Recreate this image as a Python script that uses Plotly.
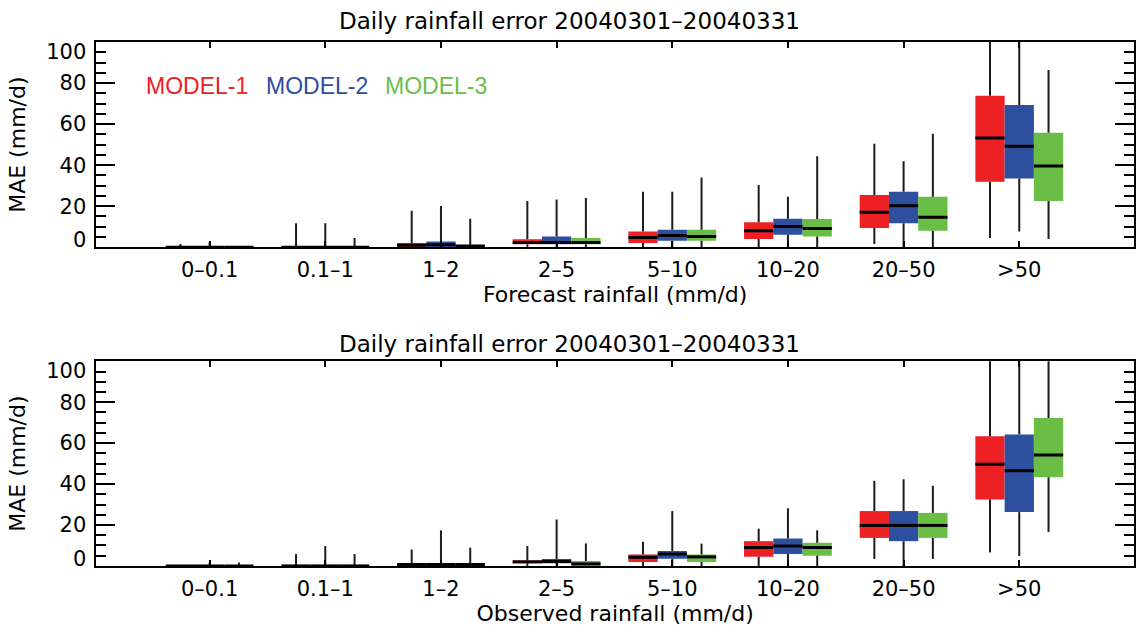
import plotly.graph_objects as go

# Rainfall bins (x categories)
categories = ["0–0.1", "0.1–1", "1–2", "2–5", "5–10", "10–20", "20–50", ">50"]
models = ["MODEL-1", "MODEL-2", "MODEL-3"]
colors = ["#ED2024", "#2E4E9E", "#6BBE45"]

# Forecast-binned MAE statistics, one list per model (MODEL-1, MODEL-2, MODEL-3)
fc_low = [[0, 0, 0, 0, 0, 0, 1.5, 4.5],
          [0, 0, 0, 0, 0, 0, 0, 7.7],
          [0, 0, 0, 0, 0, 0, 0, 4.0]]
fc_q1 = [[0, 0, 0, 1.4, 2.0, 4.0, 9.3, 31.9],
         [0, 0, 0, 1.4, 3.1, 6.0, 11.7, 33.5],
         [0, 0, 0, 1.4, 3.1, 5.2, 8.0, 22.5]]
fc_med = [[0, 0, 0.9, 2.3, 4.7, 8.0, 17.0, 53.2],
          [0, 0, 1.2, 2.3, 5.7, 10.1, 20.2, 49.2],
          [0, 0, 0.6, 2.3, 5.2, 9.1, 14.6, 39.6]]
fc_q3 = [[0, 0.3, 2.0, 3.8, 7.7, 12.2, 25.4, 73.8],
         [0, 0.3, 2.8, 5.2, 8.5, 13.8, 27.0, 69.3],
         [0, 0.2, 0.9, 4.5, 8.5, 13.7, 24.6, 55.8]]
fc_high = [[1.5, 11.7, 17.7, 22.5, 27.0, 30.3, 50.4, 115],
           [2.5, 11.7, 20.1, 23.3, 27.0, 24.6, 41.9, 115],
           [0.5, 4.5, 13.8, 24.0, 34.0, 44.3, 55.3, 86.4]]

# Observation-binned MAE statistics
ob_low = [[0, 0, 0, 0, 0, 0, 3.4, 6.6],
          [0, 0, 0, 0, 0, 0, 0, 4.8],
          [0, 0, 0, 0, 0, 0, 3.4, 16.6]]
ob_q1 = [[0, 0, 0, 1.3, 1.9, 4.5, 13.7, 32.4],
         [0, 0, 0, 1.3, 3.5, 5.8, 12.1, 26.3],
         [0, 0, 0, 0, 1.9, 5.0, 13.7, 43.3]]
ob_med = [[0, 0, 0.7, 2.0, 4.2, 9.0, 19.8, 49.7],
          [0, 0, 0.7, 2.2, 5.8, 9.7, 19.8, 46.5],
          [0, 0, 0.7, 1.0, 4.4, 9.0, 19.8, 54.2]]
ob_q3 = [[0, 0, 1.0, 2.7, 5.6, 12.1, 26.8, 63.4],
         [0, 0, 1.0, 3.4, 7.3, 13.4, 26.8, 64.2],
         [0, 0, 1.0, 2.4, 5.6, 11.3, 25.9, 72.3]]
ob_high = [[0.5, 5.8, 8.0, 9.7, 11.8, 18.2, 41.6, 115],
           [1.5, 9.7, 17.4, 22.7, 26.8, 28.2, 42.4, 115],
           [1.7, 5.8, 8.9, 11.0, 10.9, 17.4, 39.2, 115]]

y_ticks = [0, 20, 40, 60, 80, 100]
y_label_pos = [3.8, 20, 40, 60, 80, 95.3]
y_label_text = ["0", "20", "40", "60", "80", "100"]

BOX_W = 0.253
OFFSETS = [-BOX_W, 0.0, BOX_W]
FONT_AX = "DejaVu Sans"
FONT_LEG = "Liberation Sans, Arial"

fig = go.Figure()


def add_panel(low, q1, med, q3, high, xa, ya):
    pos = list(range(1, len(categories) + 1))
    for m in range(3):
        xs = [p + OFFSETS[m] for p in pos]
        fig.add_trace(go.Bar(
            x=xs, y=[b - a for a, b in zip(q1[m], q3[m])], base=q1[m],
            width=BOX_W, marker=dict(color=colors[m], line=dict(width=0)),
            xaxis=xa, yaxis=ya, showlegend=False, hoverinfo="skip"))
    for m in range(3):
        wx, wy = [], []
        for i, p in enumerate(pos):
            x = p + OFFSETS[m]
            wx += [x, x, None, x, x, None]
            wy += [low[m][i], q1[m][i], None, q3[m][i], high[m][i], None]
        fig.add_trace(go.Scatter(
            x=wx, y=wy, mode="lines", line=dict(color="#1c1c1c", width=2),
            xaxis=xa, yaxis=ya, showlegend=False, hoverinfo="skip"))
    for m in range(3):
        mx, my = [], []
        for i, p in enumerate(pos):
            x = p + OFFSETS[m]
            mx += [x - BOX_W / 2, x + BOX_W / 2, None]
            my += [med[m][i], med[m][i], None]
        fig.add_trace(go.Scatter(
            x=mx, y=my, mode="lines", line=dict(color="black", width=3),
            xaxis=xa, yaxis=ya, showlegend=False, hoverinfo="skip"))


add_panel(fc_low, fc_q1, fc_med, fc_q3, fc_high, "x", "y")
add_panel(ob_low, ob_q1, ob_med, ob_q3, ob_high, "x2", "y2")

# empty traces so the label-only overlay axes get drawn
fig.add_trace(go.Scatter(x=[], y=[], xaxis="x", yaxis="y3", showlegend=False))
fig.add_trace(go.Scatter(x=[], y=[], xaxis="x2", yaxis="y4", showlegend=False))

X_DOMAIN = [96.5 / 1136, 1.0]
X_RANGE = [0.0204, 8.992]
TOP_DOM = [1 - 247.5 / 635, 1 - 40.5 / 635]
BOT_DOM = [1 - 569.3 / 635, 1 - 362.7 / 635]

tick_font = dict(family=FONT_AX, size=21, color="black")
title_font = dict(family=FONT_AX, size=22, color="black")


def xaxis_cfg(anchor, title):
    return dict(domain=X_DOMAIN, range=X_RANGE, anchor=anchor,
                tickmode="array", tickvals=list(range(1, len(categories) + 1)),
                ticktext=categories, ticks="inside", ticklen=6, tickwidth=1.5,
                tickcolor="black", mirror="ticks", showline=True, linewidth=2,
                linecolor="black", showgrid=False, zeroline=False,
                tickfont=tick_font, ticklabelstandoff=3,
                title=dict(text=title, font=title_font, standoff=5))


def yaxis_cfg(anchor, dom):
    return dict(domain=dom, range=[0, 100], anchor=anchor,
                tickmode="array", tickvals=y_ticks, ticks="inside", ticklen=19,
                tickwidth=1.5, tickcolor="black", showticklabels=False,
                minor=dict(tick0=0, dtick=5, ticks="inside", ticklen=10,
                           tickwidth=1.5, tickcolor="black", showgrid=False),
                mirror="ticks", showline=True, linewidth=2, linecolor="black",
                showgrid=False, zeroline=False)


def ylabel_cfg(over, anchor):
    return dict(overlaying=over, anchor=anchor, range=[0, 100], side="left",
                tickmode="array", tickvals=y_label_pos, ticktext=y_label_text,
                ticks="", showline=False, showgrid=False, zeroline=False,
                tickfont=tick_font, ticklabelstandoff=9,
                title=dict(text="MAE (mm/d)", font=title_font, standoff=14))


fig.update_layout(
    width=1136, height=635,
    margin=dict(l=0, r=0, t=0, b=0),
    paper_bgcolor="white", plot_bgcolor="white",
    barmode="overlay", showlegend=False,
    xaxis=xaxis_cfg("y", "Forecast rainfall (mm/d)"),
    yaxis=yaxis_cfg("x", TOP_DOM),
    xaxis2=xaxis_cfg("y2", "Observed rainfall (mm/d)"),
    yaxis2=yaxis_cfg("x2", BOT_DOM),
    yaxis3=ylabel_cfg("y", "x"),
    yaxis4=ylabel_cfg("y2", "x2"),
)

title_text = "Daily rainfall error 20040301–20040331"
for ty in [1 - 19 / 635, 1 - 345 / 635]:
    fig.add_annotation(text=title_text, xref="paper", yref="paper",
                       x=571 / 1136, y=ty, xanchor="center", yanchor="middle",
                       showarrow=False, font=dict(family=FONT_AX, size=23, color="black"))

for m, lx in enumerate([144, 264, 384]):
    fig.add_annotation(text=models[m], xref="paper", yref="paper",
                       x=lx / 1136, y=1 - 85 / 635, xanchor="left", yanchor="middle",
                       showarrow=False, font=dict(family=FONT_LEG, size=23, color=colors[m]))

fig.write_html("out.html")
